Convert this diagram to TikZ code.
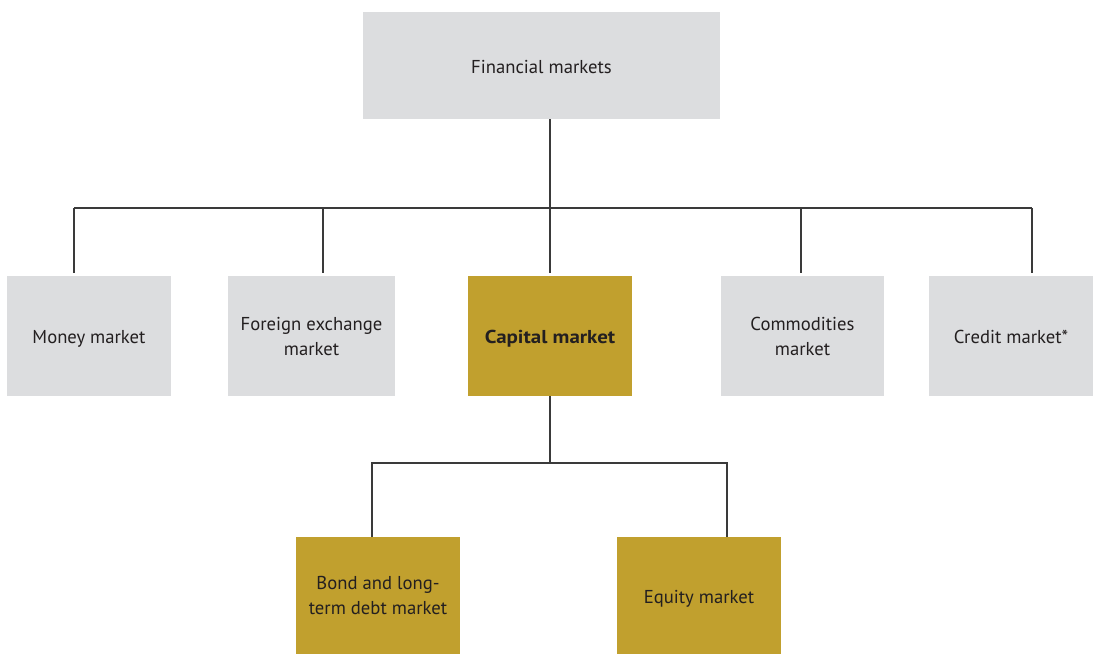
\documentclass[tikz,border=0pt]{standalone}
\usepackage{fontspec}
\setmainfont{PT Sans}
\newfontfamily\widebold{PT Sans Bold}[FakeStretch=1.12]
\definecolor{boxgray}{HTML}{DCDDDF}
\definecolor{boxgold}{HTML}{C1A02E}
\definecolor{linegray}{HTML}{3A3A3A}
\definecolor{textdark}{HTML}{231F20}
\begin{document}
\begin{tikzpicture}[x=0.75pt,y=-0.75pt,
  every node/.style={inner sep=0pt, outer sep=0pt, text=textdark, align=center,
    font=\fontsize{14}{18.75}\selectfont},
  oneline/.style={text height=11.8pt, text depth=0pt},
  graybox/.style={fill=boxgray, minimum width=#1*0.75pt, minimum height=120*0.75pt},
  goldbox/.style={fill=boxgold, minimum width=164*0.75pt, minimum height=#1*0.75pt},
  link/.style={draw=linegray, line width=1.2pt},
  gap/.style={shorten >=2.25pt}]
\useasboundingbox (0,0) rectangle (1096,654);

% top level
\node[fill=boxgray, minimum width=357*0.75pt, minimum height=107*0.75pt, oneline] (fin) at (541.5,65.5) {Financial markets};

% market segments
\node[graybox=164, oneline] (money) at (89,336) {Money market};
\node[graybox=167] (fx) at (311.5,336) {Foreign exchange\\market};
\node[goldbox=120, oneline] (cap) at (550,336) {\widebold Capital market};
\node[graybox=163] (comm) at (802.5,336) {Commodities\\market};
\node[graybox=164, oneline] (cred) at (1011,336) {Credit market*};

% capital market sub-segments
\node[goldbox=117] (bond) at (378,595.5) {Bond and long-\\term debt market};
\node[goldbox=117, oneline] (eq) at (699,595.5) {Equity market};

% junction points on the upper bus
\coordinate (busC) at (550,208);
\coordinate (busM) at (74,208);
\coordinate (busF) at (323,208);
\coordinate (busO) at (801,208);
\coordinate (busR) at (1032,208);

% junction points on the lower bus
\coordinate (lowC) at (550,463);
\coordinate (lowB) at (372,463);
\coordinate (lowE) at (727,463);

% upper tree
\draw[link] (cap.north |- fin.south) -- (busC);
\draw[link] (busM) -- (busR);
\draw[link, gap] (busM) -- (busM |- money.north);
\draw[link, gap] (busF) -- (busF |- fx.north);
\draw[link, gap] (busC) -- (cap.north);
\draw[link, gap] (busO) -- (busO |- comm.north);
\draw[link, gap] (busR) -- (busR |- cred.north);

% lower tree
\draw[link] (cap.south) -- (lowC);
\draw[link] (lowB |- bond.north) -- (lowB) -- (lowE) -- (lowE |- eq.north);
\end{tikzpicture}
\end{document}
